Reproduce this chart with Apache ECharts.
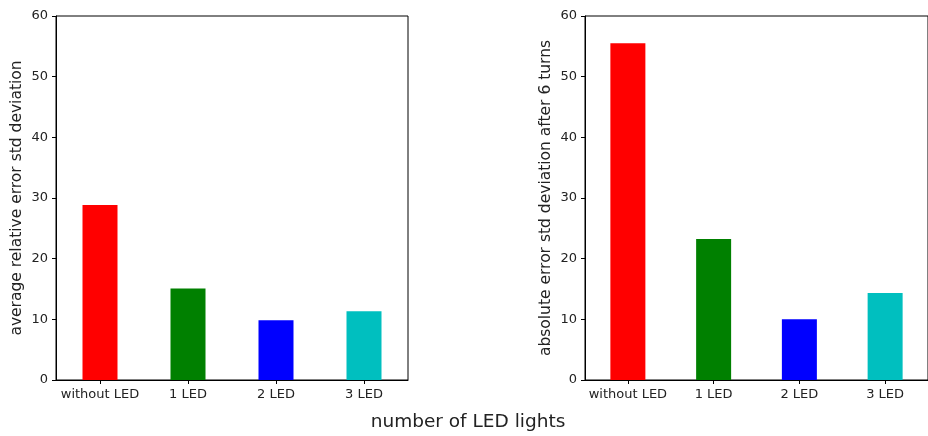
<!DOCTYPE html>
<html>
<head>
<meta charset="utf-8">
<script src="https://cdn.jsdelivr.net/npm/echarts@6/dist/echarts.min.js"></script>
<style>
  html, body { margin: 0; padding: 0; background: #fff; }
  #chart { width: 928px; height: 436px; }
</style>
</head>
<body>
<div id="chart"></div>
<script>
// Categories shared by both panels
const categories = ['without LED', '1 LED', '2 LED', '3 LED'];
// Left panel: average relative error std deviation
const relativeErrorStd = [28.85, 15.1, 9.85, 11.35];
// Right panel: absolute error std deviation after 6 turns
const absoluteErrorStd = [55.5, 23.25, 10.0, 14.35];
// Bar colours per category
const barColors = ['#ff0000', '#008000', '#0000ff', '#00bfbf'];
const yTicks = { min: 0, max: 60, interval: 10 };

const FONT = 'DejaVu Sans';

function grid(left, right) {
  return {
    left: left, right: right, top: 16, bottom: 56,
    show: true, borderColor: '#000', borderWidth: 1, backgroundColor: 'transparent'
  };
}

function xAxis(idx) {
  return {
    type: 'category', gridIndex: idx, data: categories,
    axisLine: { lineStyle: { color: '#000', width: 1 } },
    axisTick: { show: true, interval: 0, alignWithLabel: true, length: 4, lineStyle: { color: '#000' } },
    axisLabel: { interval: 0, color: '#222', fontFamily: FONT, fontSize: 13, margin: 8 }
  };
}

function yAxis(idx, name) {
  return {
    type: 'value', gridIndex: idx,
    min: yTicks.min, max: yTicks.max, interval: yTicks.interval,
    name: name, nameLocation: 'middle', nameGap: 31,
    nameTextStyle: { color: '#222', fontFamily: FONT, fontSize: 15.5 },
    axisLine: { show: true, lineStyle: { color: '#000', width: 1 } },
    axisTick: { show: true, length: 4, lineStyle: { color: '#000' } },
    axisLabel: { color: '#222', fontFamily: FONT, fontSize: 13, margin: 8 },
    splitLine: { show: false }
  };
}

function barSeries(idx, values) {
  return {
    type: 'bar', xAxisIndex: idx, yAxisIndex: idx,
    barWidth: 35,
    data: values.map((v, i) => ({ value: v, itemStyle: { color: barColors[i] } })),
    animation: false
  };
}

const chart = echarts.init(document.getElementById('chart'), null, { renderer: 'canvas' });
chart.setOption({
  animation: false,
  backgroundColor: '#fff',
  grid: [grid(56, 520), grid(585, -9)],
  xAxis: [xAxis(0), xAxis(1)],
  yAxis: [
    yAxis(0, 'average relative error std deviation'),
    yAxis(1, 'absolute error std deviation after 6 turns')
  ],
  series: [barSeries(0, relativeErrorStd), barSeries(1, absoluteErrorStd)],
  graphic: [{
    type: 'text', x: 468, y: 422,
    style: {
      text: 'number of LED lights', fill: '#222',
      font: '18.5px "DejaVu Sans"', align: 'center', verticalAlign: 'middle'
    }
  }]
});
</script>
</body>
</html>
